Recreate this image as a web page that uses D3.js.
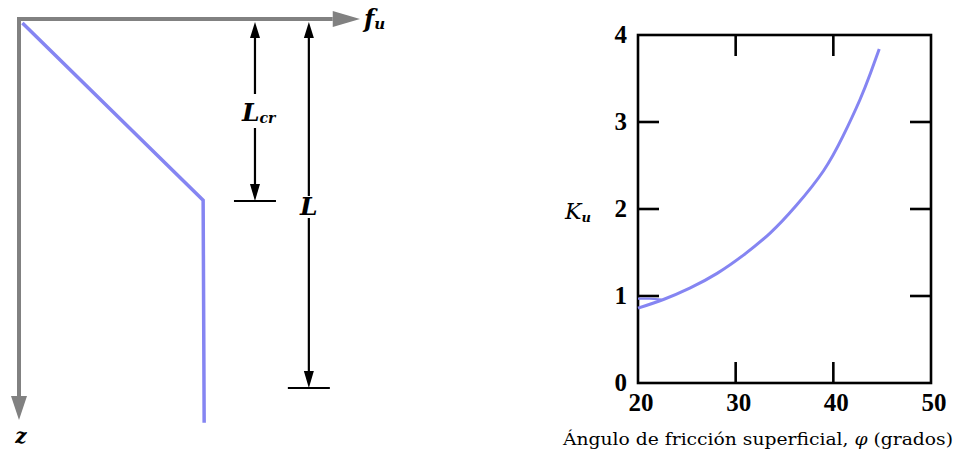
<!DOCTYPE html>
<html>
<head>
<meta charset="utf-8">
<script src="https://cdn.jsdelivr.net/npm/d3@7"></script>
<style>
  body { margin: 0; background: #fff; }
  svg text { font-family: "DejaVu Serif", "Liberation Serif", serif; }
  svg text.tick { font-family: "Liberation Serif", serif; font-weight: bold; }
</style>
</head>
<body>
<svg id="chart" width="959" height="455"></svg>
<script>
// ---- left diagram: skin friction profile f_u vs depth z ----
const profileFu = [1, 54, 54.3];
const profileZ = [1, 45.2, 100.7];
const lcrDepth = 45.4;
const lDepth = 92;
const lcrPos = 69.2;
const lPos = 85;

// ---- right chart: K_u vs friction angle ----
const phiValues = [20.0, 22.6, 25.3, 28.1, 30.8, 33.5, 36.2, 39.0, 41.0, 42.7, 43.8, 44.7];
const kuValues = [0.86, 0.96, 1.09, 1.26, 1.47, 1.72, 2.04, 2.44, 2.84, 3.25, 3.56, 3.84];
const branchPhi = [20, 21.2, 22.4];
const branchKu = [0.97, 0.97, 0.96];
const xTicks = [20, 30, 40, 50];
const yTicks = [0, 1, 2, 3, 4];
const innerXTicks = [30, 40];
const innerYTicks = [1, 2, 3];

const svg = d3.select("#chart");
const blue = "#8585f2";
const gray = "#818181";

// left panel scales
const fx = d3.scaleLinear().domain([0, 100]).range([19, 360]);
const fz = d3.scaleLinear().domain([0, 100]).range([19, 420]);

const left = svg.append("g").attr("class", "diagram");

// gray axes
left.append("line")
  .attr("x1", fx(0) - 2).attr("y1", fz(0))
  .attr("x2", fx(92)).attr("y2", fz(0))
  .attr("stroke", gray).attr("stroke-width", 4);
left.append("line")
  .attr("x1", fx(0)).attr("y1", fz(0))
  .attr("x2", fx(0)).attr("y2", fz(94))
  .attr("stroke", gray).attr("stroke-width", 4);
left.append("path")
  .attr("d", `M${fx(92)},${fz(0) - 8} L${fx(100)},${fz(0)} L${fx(92)},${fz(0) + 8} Z`)
  .attr("fill", gray);
left.append("path")
  .attr("d", `M${fx(0) - 8},${fz(94)} L${fx(0)},${fz(100)} L${fx(0) + 8},${fz(94)} Z`)
  .attr("fill", gray);

// profile line
left.append("path")
  .datum(d3.zip(profileFu, profileZ))
  .attr("d", d3.line().x(d => fx(d[0])).y(d => fz(d[1])))
  .attr("fill", "none")
  .attr("stroke", blue)
  .attr("stroke-width", 3.5);

// dimension arrows
function dimArrow(xPos, depth, gapTop, gapBottom, half) {
  const x = fx(xPos);
  const y0 = fz(0) + 3;
  const y1 = fz(depth);
  left.append("line").attr("x1", x).attr("y1", y0 + 12).attr("x2", x).attr("y2", gapTop)
    .attr("stroke", "#000").attr("stroke-width", 2.2);
  left.append("line").attr("x1", x).attr("y1", gapBottom).attr("x2", x).attr("y2", y1 - 14)
    .attr("stroke", "#000").attr("stroke-width", 2.2);
  left.append("path")
    .attr("d", `M${x - 5},${y0 + 16} L${x},${y0} L${x + 5},${y0 + 16} Z`)
    .attr("fill", "#000");
  left.append("path")
    .attr("d", `M${x - 5},${y1 - 17} L${x},${y1} L${x + 5},${y1 - 17} Z`)
    .attr("fill", "#000");
  left.append("line").attr("x1", x - half).attr("y1", y1).attr("x2", x + half).attr("y2", y1)
    .attr("stroke", "#000").attr("stroke-width", 2);
}
dimArrow(lcrPos, lcrDepth, 94, 128, 21);
dimArrow(lPos, lDepth, 196, 218, 21);

// labels
const lcr = left.append("text").attr("x", fx(lcrPos) - 13).attr("y", 121)
  .attr("font-size", 25).attr("font-style", "italic").attr("font-weight", "bold");
lcr.append("tspan").text("L");
lcr.append("tspan").attr("font-size", 14).attr("dy", 2).text("cr");
left.append("text").attr("x", fx(lPos)).attr("y", 215).attr("text-anchor", "middle")
  .attr("font-size", 25).attr("font-style", "italic").attr("font-weight", "bold").text("L");
const fu = left.append("text").attr("x", 364).attr("y", 27)
  .attr("font-size", 24).attr("font-style", "italic").attr("font-weight", "bold");
fu.append("tspan").text("f");
fu.append("tspan").attr("font-size", 15).attr("dy", 2).text("u");
left.append("text").attr("x", 21).attr("y", 443).attr("text-anchor", "middle")
  .attr("font-size", 20).attr("font-style", "italic").attr("font-weight", "bold").text("z");

// right panel
const x = d3.scaleLinear().domain([20, 50]).range([638, 931]);
const y = d3.scaleLinear().domain([0, 4]).range([383, 35]);
const right = svg.append("g").attr("class", "plot");

right.append("rect")
  .attr("x", x(20)).attr("y", y(4))
  .attr("width", x(50) - x(20)).attr("height", y(0) - y(4))
  .attr("fill", "none").attr("stroke", "#000").attr("stroke-width", 2.6);

const tickLen = 21;
innerYTicks.forEach(t => {
  right.append("line").attr("x1", x(20)).attr("x2", x(20) + tickLen)
    .attr("y1", y(t)).attr("y2", y(t)).attr("stroke", "#000").attr("stroke-width", 2.6);
  right.append("line").attr("x1", x(50) - tickLen).attr("x2", x(50))
    .attr("y1", y(t)).attr("y2", y(t)).attr("stroke", "#000").attr("stroke-width", 2.6);
});
innerXTicks.forEach(t => {
  right.append("line").attr("x1", x(t)).attr("x2", x(t))
    .attr("y1", y(4)).attr("y2", y(4) + tickLen).attr("stroke", "#000").attr("stroke-width", 2.6);
  right.append("line").attr("x1", x(t)).attr("x2", x(t))
    .attr("y1", y(0) - tickLen).attr("y2", y(0)).attr("stroke", "#000").attr("stroke-width", 2.6);
});

right.selectAll(".ylab").data(yTicks).join("text")
  .attr("class", "tick ylab")
  .attr("x", x(20) - 11).attr("y", d => y(d) + 8)
  .attr("text-anchor", "end").attr("font-size", 25)
  .text(d => d);
right.selectAll(".xlab").data(xTicks).join("text")
  .attr("class", "tick xlab")
  .attr("x", d => x(d) + 3).attr("y", 411)
  .attr("text-anchor", "middle").attr("font-size", 25)
  .text(d => d);

const ku = right.append("text").attr("x", 565).attr("y", 219)
  .attr("font-size", 22).attr("font-style", "italic");
ku.append("tspan").text("K");
ku.append("tspan").attr("font-size", 13).attr("font-weight", "bold").attr("dy", 3).text("u");

const title = right.append("text").attr("x", 563).attr("y", 445)
  .attr("font-size", 17.5)
  .attr("textLength", 390).attr("lengthAdjust", "spacingAndGlyphs");
title.append("tspan").text("Ángulo de fricción superficial, ");
title.append("tspan").attr("font-style", "italic").text("φ");
title.append("tspan").text(" (grados)");

const line = d3.line().curve(d3.curveNatural).x(d => x(d[0])).y(d => y(d[1]));
right.append("path")
  .datum(d3.zip(phiValues, kuValues))
  .attr("d", line)
  .attr("fill", "none").attr("stroke", blue).attr("stroke-width", 3);
right.append("path")
  .datum(d3.zip(branchPhi, branchKu))
  .attr("d", d3.line().x(d => x(d[0])).y(d => y(d[1])))
  .attr("fill", "none").attr("stroke", blue).attr("stroke-width", 2.2);
</script>
</body>
</html>
